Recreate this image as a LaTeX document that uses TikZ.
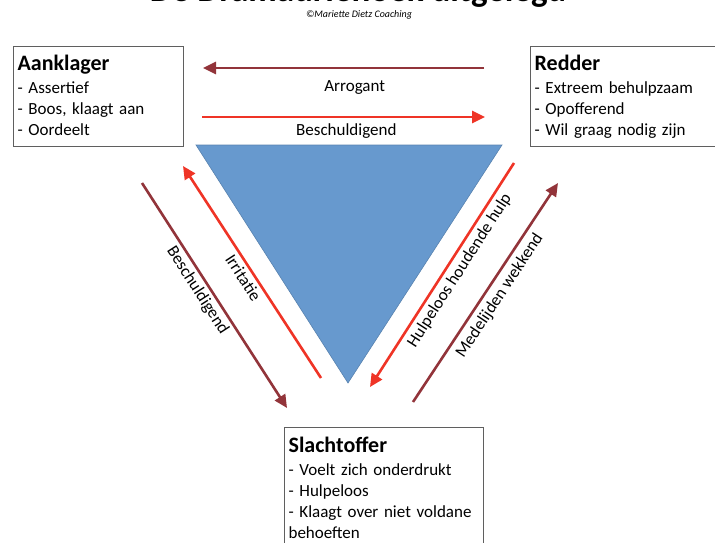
\documentclass[tikz,border=0pt]{standalone}
\usepackage{fontspec}
\setmainfont{Carlito}
\usetikzlibrary{arrows.meta, positioning, calc}
\definecolor{dramared}{RGB}{239, 52, 38}
\definecolor{dramadark}{RGB}{146, 52, 58}
\definecolor{dramablue}{RGB}{103, 153, 206}
\definecolor{boxgray}{RGB}{95, 95, 95}

\tikzset{
  rolebox/.style={draw=boxgray, line width=1.2pt, anchor=north west, align=left,
    inner xsep=4pt, inner ysep=0pt, font=\fontsize{17}{21}\selectfont},
  flowred/.style={draw=dramared, line width=2.6pt, -{Triangle[length=13pt, width=12pt]}},
  flowdark/.style={draw=dramadark, line width=2.6pt, -{Triangle[length=13pt, width=12pt]}},
  flowlabel/.style={font=\fontsize{17}{21}\selectfont, inner sep=3pt, text=black}
}
\newcommand{\roletitle}[1]{{\fontsize{22}{21}\selectfont\bfseries\rule{0pt}{20pt}#1}}

\begin{document}
\begin{tikzpicture}[x=1pt, y=-1pt]
    \clip (0,0) rectangle (715,543);

    % titel (bovenaan afgesneden)
    \node[anchor=base, font=\fontsize{35}{40}\selectfont\bfseries] (titel) at (358,2) {De Dramadriehoek uitgelegd};
    \node[anchor=base, font=\fontsize{10}{11}\selectfont\itshape] (bron) at (359,18) {©Mariette Dietz Coaching};

    % driehoek
    \coordinate (tl) at (196,145);
    \coordinate (tr) at (502,145);
    \coordinate (tb) at (348,383);
    \filldraw[fill=dramablue, draw=dramablue!85!black, line width=0.6pt] (tl) -- (tr) -- (tb) -- cycle;

    % rollen
    \node[rolebox, text width=162pt, minimum height=100pt] (aanklager) at (13,46)
        {\roletitle{Aanklager}\\[2pt]- Assertief\\- Boos, klaagt aan\\- Oordeelt\strut};
    \node[rolebox, text width=192pt, minimum height=100pt] (redder) at (530,46)
        {\roletitle{Redder}\\[2pt]- Extreem behulpzaam\\- Opofferend\\- Wil graag nodig zijn\strut};
    \node[rolebox, text width=191pt, minimum height=123pt] (slachtoffer) at (284,427)
        {\roletitle{Slachtoffer}\\[2pt]- Voelt zich onderdrukt\\- Hulpeloos\\- Klaagt over niet voldane\\behoeften\strut};

    % pijlen boven
    \coordinate (arrA) at (484,68);
    \coordinate (arrB) at (203,68);
    \coordinate (besA) at (202,117);
    \coordinate (besB) at (485,117);
    \draw[flowdark] (arrA) -- (arrB) node[flowlabel, pos=.46, below=8pt] (lblArrogant) {Arrogant};
    \draw[flowred] (besA) -- (besB) node[flowlabel, pos=.51, below=2pt] (lblBeschTop) {Beschuldigend};

    % pijlen links
    \coordinate (linksA) at (142,183);
    \coordinate (linksB) at (287,408);
    \coordinate (irrA) at (321,378);
    \coordinate (irrB) at (183,166);
    \draw[flowdark] (linksA) -- (linksB) node[flowlabel, pos=.45, sloped, below] (lblBeschLinks) {Beschuldigend};
    \draw[flowred] (irrA) -- (irrB) node[flowlabel, pos=.50, sloped, below] (lblIrritatie) {Irritatie};

    % pijlen rechts
    \coordinate (hulpA) at (514,163);
    \coordinate (hulpB) at (370,387);
    \coordinate (medA) at (413,402);
    \coordinate (medB) at (558,183);
    \draw[flowred] (hulpA) -- (hulpB) node[flowlabel, pos=.45, sloped, below, inner sep=4pt] (lblHulpeloos) {Hulpeloos houdende hulp};
    \draw[flowdark] (medA) -- (medB) node[flowlabel, pos=.52, sloped, below, inner sep=5pt] (lblMedelijden) {Medelijden wekkend};
\end{tikzpicture}
\end{document}
